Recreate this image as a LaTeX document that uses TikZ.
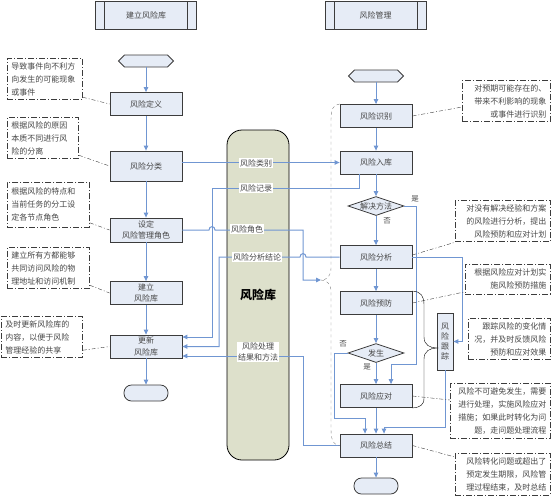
\documentclass[tikz,border=0pt]{standalone}
\usepackage{fontspec}
\setmainfont{Noto Sans CJK SC}
\usetikzlibrary{arrows.meta,shapes.geometric,shapes.symbols}

\definecolor{boxfill}{RGB}{230,236,246}
\definecolor{boxline}{RGB}{60,60,60}
\definecolor{flowblue}{RGB}{112,150,210}
\definecolor{libfill}{RGB}{221,224,203}
\definecolor{txtgray}{RGB}{70,70,70}

\begin{document}
\begin{tikzpicture}[
  x=1pt, y=-1pt,
  >={Stealth[length=5pt,width=4.5pt,inset=0pt]},
  every node/.style = {font=\fontsize{8}{10}\selectfont, text=txtgray},
  procbox/.style  = {draw=boxline, fill=boxfill, line width=0.8pt, align=center,
                     minimum width=72pt, minimum height=23pt, inner sep=0pt,
                     font=\fontsize{8}{11.5}\selectfont},
  headbox/.style  = {procbox, line width=1pt, minimum width=101pt, minimum height=28pt,
                     path picture={
                       \draw[boxline, line width=1pt]
                         ([xshift=9pt]path picture bounding box.north west) --
                         ([xshift=9pt]path picture bounding box.south west)
                         ([xshift=-9pt]path picture bounding box.north east) --
                         ([xshift=-9pt]path picture bounding box.south east);
                     }},
  startbox/.style = {draw=boxline, fill=boxfill, line width=0.8pt, signal,
                     signal to=east and west, minimum width=55pt,
                     minimum height=12pt, inner sep=0pt},
  endbox/.style   = {draw=boxline, fill=boxfill, line width=0.8pt,
                     rounded corners=7.5pt, minimum width=44pt,
                     minimum height=16pt, inner sep=0pt},
  decision/.style = {draw=boxline, fill=boxfill, line width=0.8pt, diamond,
                     aspect=3, minimum width=56pt, minimum height=19pt,
                     inner sep=-2pt},
  anno/.style     = {draw=boxline, line width=0.8pt,
                     dash pattern=on 6pt off 2pt on 1pt off 2pt,
                     inner sep=4pt, anchor=north west,
                     font=\fontsize{8}{13}\selectfont},
  note/.style     = {draw=boxline, thin, dash pattern=on 4pt off 2pt on 1pt off 2pt},
  flow/.style     = {draw=flowblue, line width=1pt, ->},
  buslbl/.style   = {fill=white, inner sep=1pt},
  yesno/.style    = {font=\fontsize{7.5}{9}\selectfont},
]

%% ── Frame ───────────────────────────────────────────────────────────────────
\useasboundingbox (0,0) rectangle (553,496);

%% ── Column and line coordinates ─────────────────────────────────────────────
\def\xL{146}     % left column
\def\xR{376}     % right column
\def\xRec{212}   % risk record line
\def\xAna{219}   % analysis result line
\def\xRole{303}  % role / treatment line
\def\xYes{416}
\def\xNo{334}
\def\xTrk{462}

%% ── Risk library (drawn first, lines pass over it) ──────────────────────────
\node[draw=black, fill=libfill, line width=0.8pt, rounded corners=15pt,
      minimum width=62pt, minimum height=330pt, text=black,
      font=\fontsize{12}{14}\selectfont\bfseries] (lib) at (258,295) {风险库};

%% ── Headers ─────────────────────────────────────────────────────────────────
\node[headbox] (hLib) at (\xL,15.5) {建立风险库};
\node[headbox] (hMgt) at (375.5,15.5) {风险管理};

%% ── Left column: building the library ───────────────────────────────────────
\node[startbox] (lStart) at (\xL,61) {};
\node[procbox] (lDef)   at (\xL,104) {风险定义};
\node[procbox, minimum height=30pt] (lCls) at (\xL,166) {风险分类};
\node[procbox, minimum height=24pt] (lRole) at (\xL,230) {设定\\风险管理角色};
\node[procbox] (lBuild) at (\xL,293) {建立\\风险库};
\node[procbox] (lUpd)   at (\xL,346.5) {更新\\风险库};
\node[endbox]  (lEnd)   at (\xL,393) {};

\foreach \a/\b in {lStart/lDef, lDef/lCls, lCls/lRole, lRole/lBuild,
                   lBuild/lUpd, lUpd/lEnd}
  \draw[flow] (\a) -- (\b);

%% ── Right column: managing the risks ────────────────────────────────────────
\node[startbox] (rStart) at (\xR,76) {};
\node[procbox] (rIdf) at (\xR,116) {风险识别};
\node[procbox] (rIn)  at (\xR,162.5) {风险入库};
\node[decision] (rDec) at (\xR,206) {解决方法};
\node[procbox] (rAna) at (\xR,257) {风险分析};
\node[procbox] (rPre) at (\xR,303) {风险预防};
\node[decision] (rOcc) at (\xR,353) {发生};
\node[procbox] (rRes) at (\xR,396) {风险应对};
\node[procbox] (rSum) at (\xR,445.5) {风险总结};
\node[endbox]  (rEnd) at (\xR,486) {};
\node[procbox, minimum width=16pt, minimum height=57pt,
      font=\fontsize{8}{10}\selectfont] (rTrk) at (445,341.5) {风\\险\\跟\\踪};

\foreach \a/\b in {rStart/rIdf, rIdf/rIn, rIn/rDec, rDec/rAna, rAna/rPre,
                   rPre/rOcc, rOcc/rRes, rRes/rSum, rSum/rEnd}
  \draw[flow] (\a) -- (\b);

% branches
\draw[flow] (rDec.east) -| (\xYes,364) -| ([xshift=15pt]rRes.north);
\draw[flow] (rOcc.west) -| (\xNo,418) -| ([xshift=-11pt]rSum.north);
\draw[flow] (rAna.east) -- (\xTrk,257) |- (rTrk.east);
\draw[flow] (rTrk.south) -- ++(0,57) -| ([xshift=8pt]rSum.north);

\node[yesno] (yDec) at (415,199) {是};
\node[yesno] (nDec) at (387,221) {否};
\node[yesno] (nOcc) at (343,344) {否};
\node[yesno] (yOcc) at (367,367) {是};

%% ── Lines through the library ───────────────────────────────────────────────
\coordinate (bTip) at (321,280);
\draw[flow] (lCls.east |- rIn.west) -- (rIn.west);
\draw[flow] ([xshift=-17pt]rIn.south) |- (\xRec,188) |- ([yshift=9.5pt]lUpd.east);
\draw[flow] (lRole.east) -- (\xRec-3,230)
  .. controls (\xRec-3,225.5) and (\xRec+3,225.5) .. (\xRec+3,230)
  -| (\xRole,280) -- (bTip);
\draw[flow] (rAna.west) -- (\xRole+3,257)
  .. controls (\xRole+3,252.5) and (\xRole-3,252.5) .. (\xRole-3,257)
  -- (\xAna,257) |- (lUpd.east);
\draw[flow] (rSum.west) -| (\xRole,356) -- ([yshift=-9.5pt]lUpd.east);

\node[buslbl] (tCat)  at (256,163) {风险类别};
\node[buslbl] (tRec)  at (256,188) {风险记录};
\node[buslbl] (tRole) at (247,229) {风险角色};
\node[buslbl] (tCon)  at (257,257) {风险分析结论};
\node[buslbl, align=center, font=\fontsize{8}{10.5}\selectfont] (tTrt)
  at (258,352) {风险处理\\结果和方法};

%% ── Braces ──────────────────────────────────────────────────────────────────
\draw[gray, dashed, thin] (rIdf.north west)
  .. controls (333,104) and (331,110) .. (331,120) -- (331,268)
  .. controls (331,276) and (327,280) .. (bTip)
  .. controls (327,280) and (331,284) .. (331,292) -- (331,430)
  .. controls (331,442) and (335,445.5) .. (rSum.west);

\coordinate (kTip) at (437,348);
\draw[black, thin] (rPre.north east)
  .. controls (421,291.5) and (424,296) .. (424,305) -- (424,337)
  .. controls (424,345) and (430,348) .. (kTip)
  .. controls (430,348) and (424,351) .. (424,359) -- (424,398)
  .. controls (424,405) and (420,407.5) .. (rRes.south east);

%% ── Notes, left ─────────────────────────────────────────────────────────────
\node[anno, text width=67pt, minimum height=40pt, align=left] (nDef) at (7,58)
  {导致事件向不利方\\向发生的可能现象\\或事件};
\node[anno, text width=63pt, minimum height=40pt, align=left] (nCls) at (7,117)
  {根据风险的原因\\本质不同进行风\\险的分离};
\node[anno, text width=74pt, minimum height=45pt, align=left] (nRole) at (7,182)
  {根据风险的特点和\\当前任务的分工设\\定各节点角色};
\node[anno, text width=74pt, minimum height=40pt, align=left] (nBuild) at (7,247)
  {建立所有方都能够\\共同访问风险的物\\理地址和访问机制};
\node[anno, text width=73pt, minimum height=34pt, align=left] (nUpd) at (1,316)
  {及时更新风险库的\\内容，以便于风险\\管理经验的共享};

\draw[note] ([yshift=3pt]nDef.south east) -- (lDef.west);
\draw[note] ([yshift=4pt]nCls.south east) -- (lCls.west);
\draw[note] ([yshift=5pt]nRole.south east) -- (lRole.west);
\draw[note] ([yshift=4pt]nBuild.south east) -- (lBuild.west);
\draw[note] ([yshift=8pt]nUpd.south east) -- (lUpd.west);

%% ── Notes, right ────────────────────────────────────────────────────────────
\node[anno, text width=80pt, minimum height=40pt, align=right] (nIdf) at (462,80)
  {对预期可能存在的、\\带来不利影响的现象\\或事件进行识别};
\node[anno, text width=87pt, minimum height=40pt, align=right] (nAna) at (455,200)
  {对没有解决经验和方案\\的风险进行分析，提出\\风险预防和应对计划};
\node[anno, text width=77pt, minimum height=30pt, align=right] (nPre) at (465,264)
  {根据风险应对计划实\\施风险预防措施};
\node[anno, text width=74pt, minimum height=32pt, align=right] (nTrk) at (468,318)
  {跟踪风险的变化情\\况，并及时反馈风险\\预防和应对效果};
\node[anno, text width=92pt, minimum height=46pt, align=right] (nRes) at (450,383)
  {风险不可避免发生，需要\\进行处理，实施风险应对\\措施；如果此时转化为问\\题，走问题处理流程};
\node[anno, text width=87pt, minimum height=40pt, align=right] (nSum) at (455,453)
  {风险转化问题或超出了\\预定发生期限，风险管\\理过程结束，及时总结};

\draw[note] (rIdf.east) -- ([yshift=-27pt]nIdf.north west);
\draw[note] ([yshift=2pt]rAna.east) -- (nAna.south west);
\draw[note] (rPre.east) -- ([yshift=3pt]nPre.south west);
\draw[note] (rRes.east) -- ([yshift=-17pt]nRes.north west);
\draw[note] (rSum.east) -- ([yshift=-4pt]nSum.north west);

\end{tikzpicture}
\end{document}
